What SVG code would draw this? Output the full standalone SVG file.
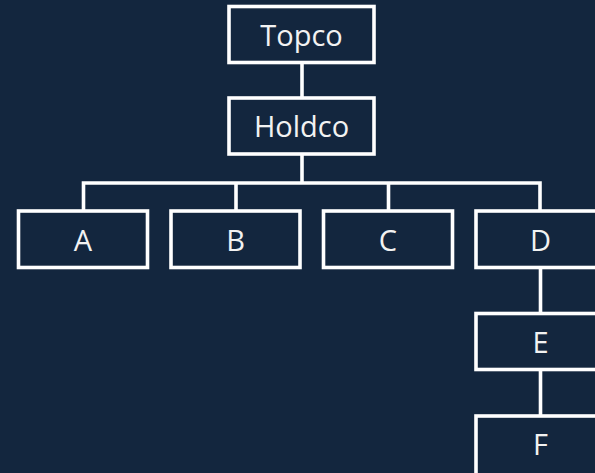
<svg xmlns="http://www.w3.org/2000/svg" width="595" height="473" viewBox="0 0 595 473">
  <style>
    .box { fill: none; stroke: #ffffff; stroke-width: 3.6; }
    .link { fill: none; stroke: #ffffff; stroke-width: 3.6; }
    .label { font-family: "Open Sans", "Liberation Sans", sans-serif; font-size: 29px; fill: #f2f2f2; text-anchor: middle; }
  </style>
  <rect width="595" height="473" fill="#13263e"/>

  <!-- connectors -->
  <g id="connectors">
    <line class="link" x1="302" y1="62" x2="302" y2="98"/>
    <line class="link" x1="302" y1="154" x2="302" y2="183"/>
    <polyline class="link" points="83.5,211 83.5,183 540,183 540,211"/>
    <line class="link" x1="236" y1="183" x2="236" y2="211"/>
    <line class="link" x1="388.5" y1="183" x2="388.5" y2="211"/>
    <line class="link" x1="540.5" y1="267" x2="540.5" y2="314"/>
    <line class="link" x1="540.5" y1="369" x2="540.5" y2="416"/>
  </g>

  <!-- nodes -->
  <g id="topco">
    <rect class="box" x="229" y="6.5" width="145" height="56"/>
    <text class="label" x="301.5" y="46">Topco</text>
  </g>
  <g id="holdco">
    <rect class="box" x="229" y="98" width="145" height="56"/>
    <text class="label" x="301.5" y="137">Holdco</text>
  </g>
  <g id="a">
    <rect class="box" x="18.5" y="211" width="129" height="56.5"/>
    <text class="label" x="83" y="251">A</text>
  </g>
  <g id="b">
    <rect class="box" x="171" y="211" width="129" height="56.5"/>
    <text class="label" x="235.5" y="251">B</text>
  </g>
  <g id="c">
    <rect class="box" x="323.5" y="211" width="129" height="56.5"/>
    <text class="label" x="388" y="251">C</text>
  </g>
  <g id="d">
    <rect class="box" x="476" y="211" width="129" height="56.5"/>
    <text class="label" x="540.5" y="251">D</text>
  </g>
  <g id="e">
    <rect class="box" x="476" y="313.5" width="129" height="56"/>
    <text class="label" x="540.5" y="353">E</text>
  </g>
  <g id="f">
    <rect class="box" x="476" y="416" width="129" height="70"/>
    <text class="label" x="540.5" y="455">F</text>
  </g>
</svg>
